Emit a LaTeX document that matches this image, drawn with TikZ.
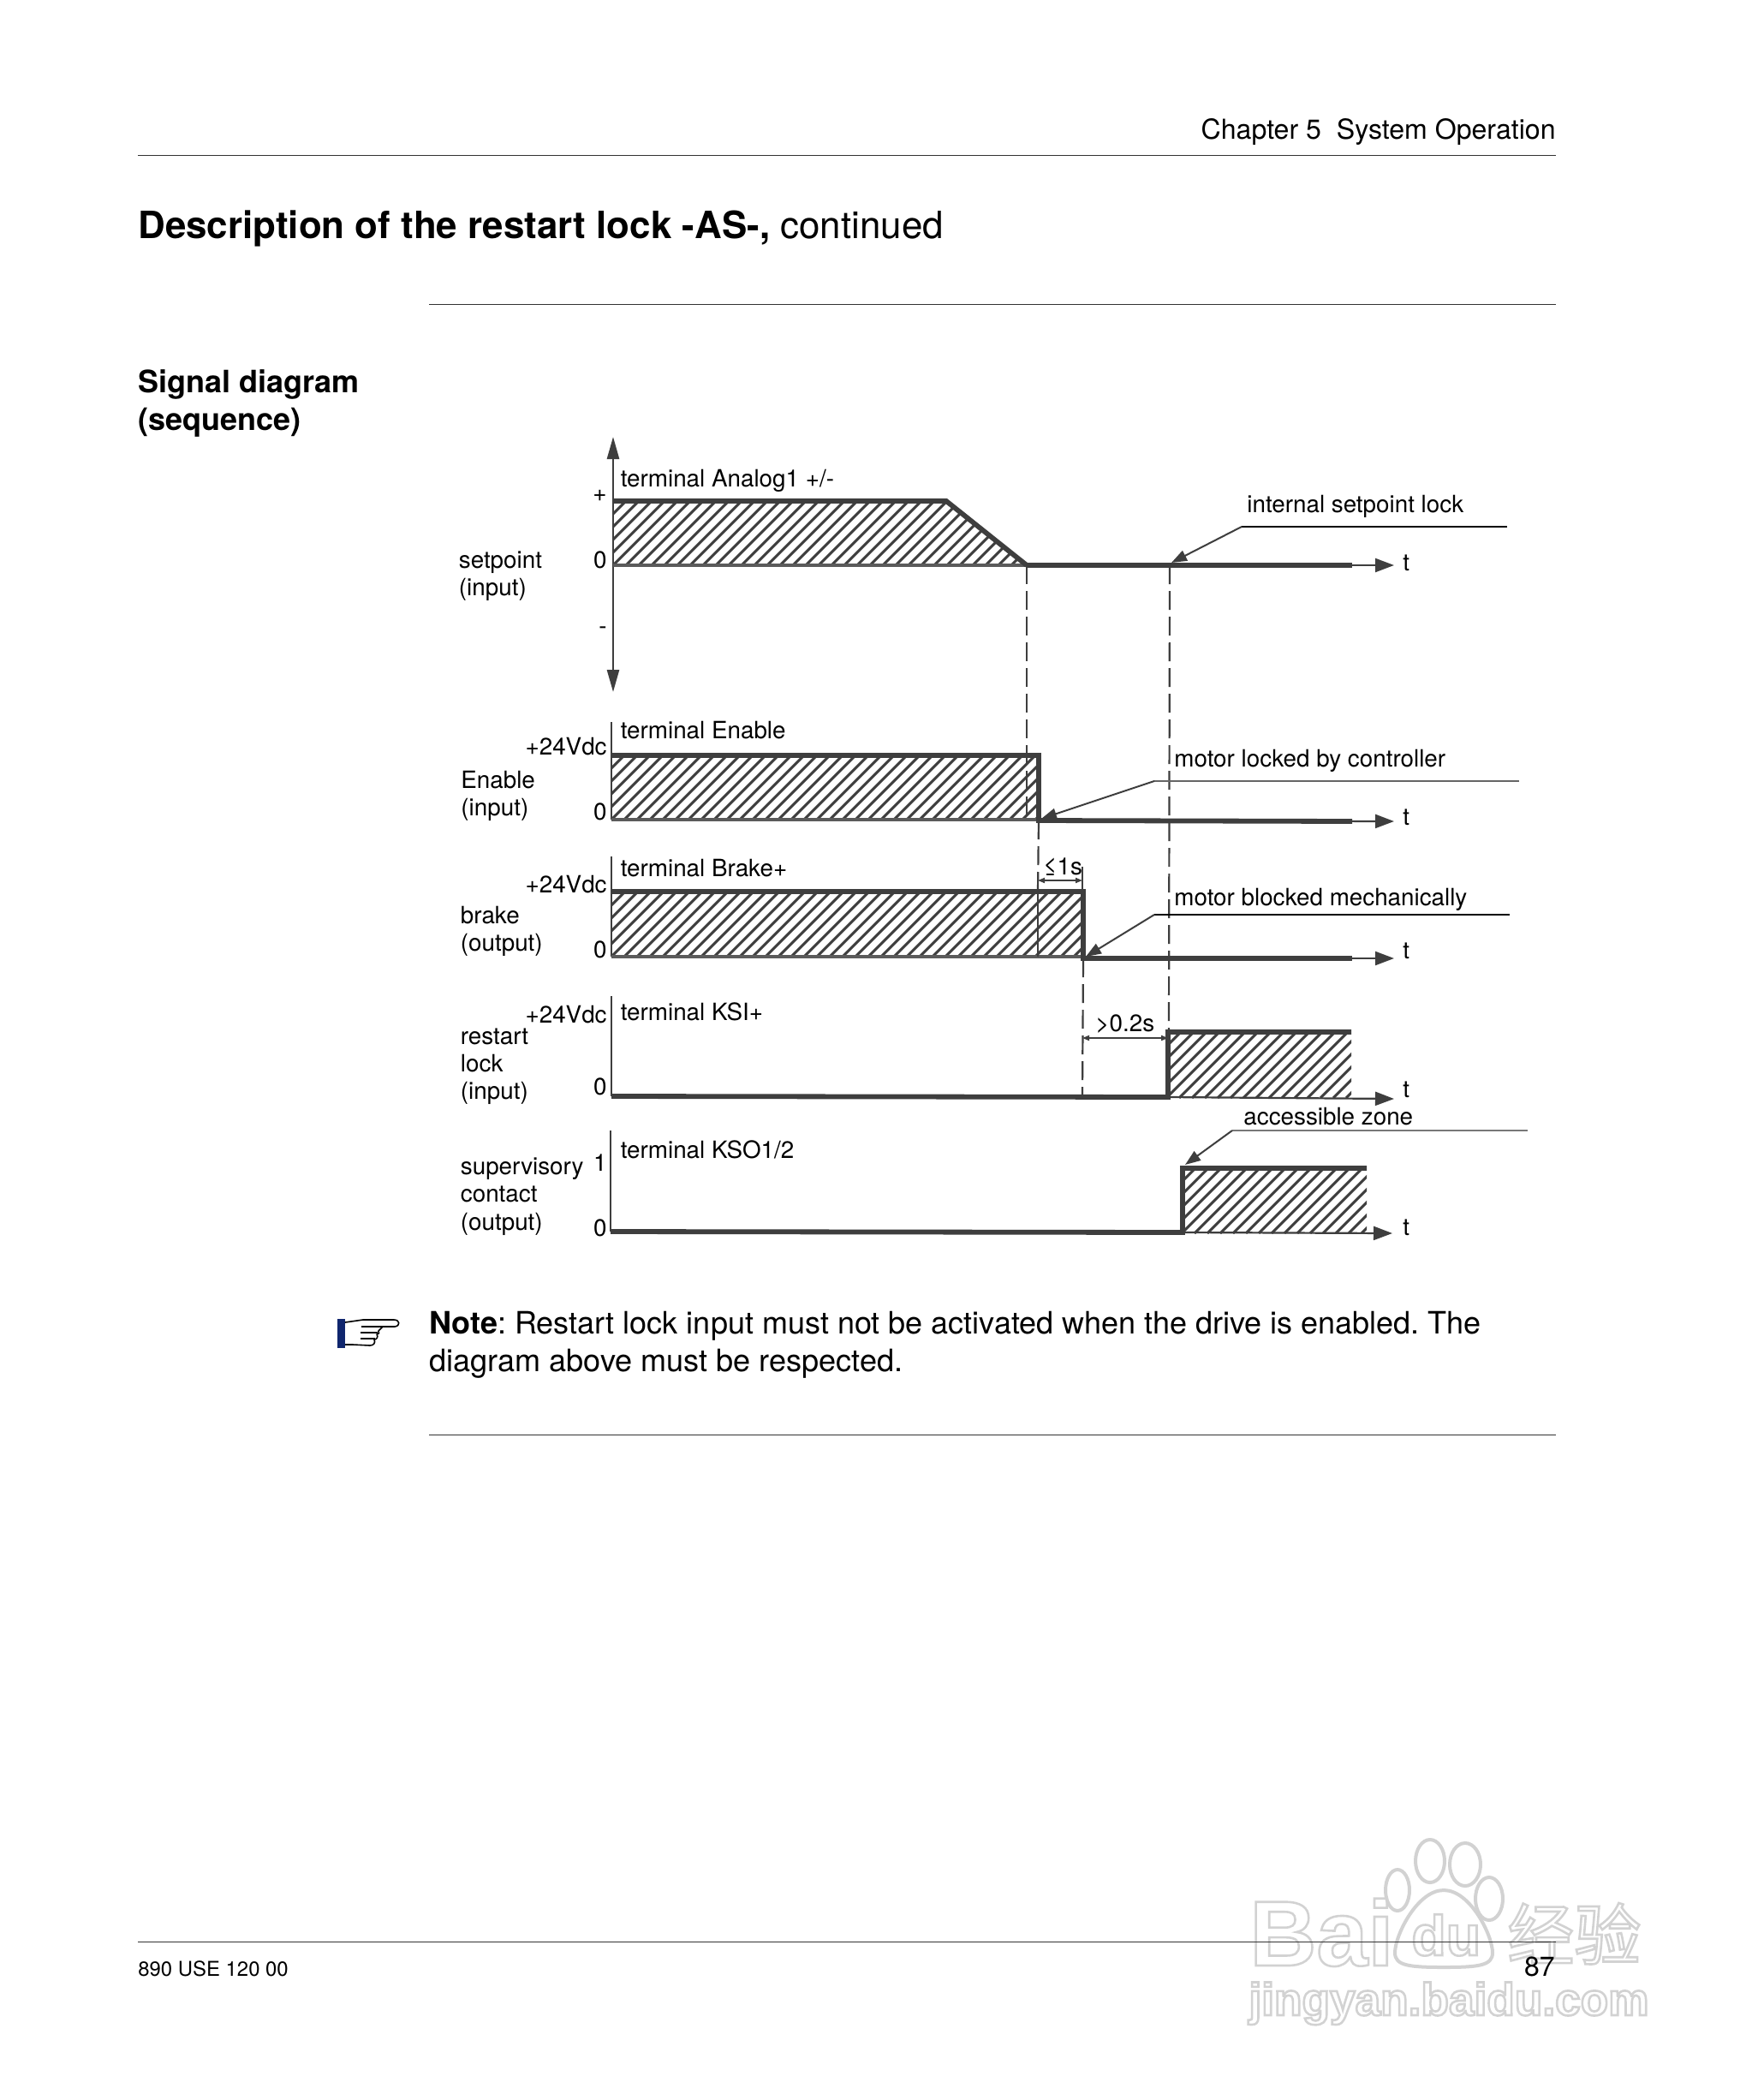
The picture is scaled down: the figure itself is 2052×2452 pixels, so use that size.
\documentclass[tikz,border=0pt]{standalone}
\usepackage{fontspec}
\setmainfont{TeX Gyre Heros}
\newfontfamily\cjkwm{Noto Sans CJK SC}
\newfontfamily\wmfont{Liberation Sans}
\usetikzlibrary{arrows.meta}
\definecolor{ink}{HTML}{3E3E3E}
\definecolor{wm}{HTML}{D2D2D2}
\definecolor{cuff}{HTML}{10266E}
\frenchspacing
\newcommand{\fs}[1]{\fontsize{#1}{#1}\selectfont}
\newcommand{\strokeon}{\special{pdf:code 1 Tr 1.3 w}}
\newcommand{\strokeoff}{\special{pdf:code 0 Tr}}
% hatched rectangle: left, top, right, bottom (pixels)
\newcommand{\hatchbox}[4]{%
  \begin{scope}
  \clip (#1,#2) rectangle (#3,#4);
  \pgfmathsetmacro{\hh}{#4-#2}
  \pgfmathsetmacro{\hstart}{#1-\hh}
  \pgfmathsetmacro{\hnext}{\hstart+15}
  \foreach \hx in {\hstart,\hnext,...,#3}{ \draw[hatchline] (\hx,#4) -- ++(\hh,-\hh); }
  \end{scope}}
\tikzset{
  lbl/.style={inner sep=0pt,anchor=base west,font=\fs{13.9},text=black},
  lblr/.style={inner sep=0pt,anchor=base east,font=\fs{13.9},text=black},
  pagetext/.style={inner sep=0pt,anchor=base west,text=black},
  rulerline/.style={line width=0.5pt,color=black!80},
  sigline/.style={line width=2.9pt,color=ink,line cap=butt,line join=miter},
  axisline/.style={line width=1.3pt,color=ink},
  zeroline/.style={line width=1.8pt,color=ink!85},
  dashline/.style={line width=1.1pt,color=ink,dash pattern=on 11pt off 4pt},
  solidcut/.style={line width=1pt,color=ink},
  hatchline/.style={line width=1.5pt,color=ink},
  tarrow/.style={line width=1.1pt,color=ink,-{Triangle[length=11pt,width=8pt]}},
  yarrows/.style={line width=1.3pt,color=ink,{Triangle[length=13pt,width=7pt]}-{Triangle[length=13pt,width=7pt]}},
  leader/.style={line width=1pt,color=ink,-{Triangle[length=9pt,width=6.5pt]}},
  leadbar/.style={line width=1.1pt,color=black},
  dimline/.style={line width=0.9pt,color=ink,{Triangle[length=4pt,width=3pt]}-{Triangle[length=4pt,width=3pt]}},
  wmtext/.style={inner sep=0pt,anchor=base west,text=wm},
}
\begin{document}
\begin{tikzpicture}[x=0.5pt,y=-0.5pt]
\useasboundingbox (0,0) rectangle (2052,2452);
\fill[white] (0,0) rectangle (2052,2452);

% ---- watermark ----
\node[wmtext,font=\wmfont\bfseries\fs{54}] (wmbai) at (1459,2295) {\strokeon Bai\strokeoff};
\begin{scope}[wm,line width=2pt]
\draw (1686,2207) .. controls (1655,2207) and (1629,2260) .. (1629,2280) .. controls (1629,2295) and (1645,2297) .. (1686,2297) .. controls (1727,2297) and (1743,2295) .. (1743,2280) .. controls (1743,2260) and (1717,2207) .. (1686,2207) -- cycle;
\draw (1632,2207) ellipse [x radius=14,y radius=24];
\draw (1670,2173) ellipse [x radius=17,y radius=25];
\draw (1711,2177) ellipse [x radius=18,y radius=25];
\draw (1739,2217) ellipse [x radius=16,y radius=25];
\end{scope}
\node[wmtext,font=\wmfont\bfseries\fs{33}] (wmdu) at (1648,2283) {\strokeon du\strokeoff};
\node[wmtext,font=\cjkwm\fs{39}] (wmjy) at (1760,2288) {\strokeon 经验\strokeoff};
\node[wmtext,font=\wmfont\bfseries\fs{26.6}] (wmurl) at (1458,2353) {\strokeon jingyan.baidu.com\strokeoff};

% ---- page furniture ----
\node[pagetext,anchor=base east,font=\fs{16.05}] (chapter) at (1817,162) {Chapter 5\hspace{0.556em}System Operation};
\coordinate (r1a) at (161,181.5); \coordinate (r1b) at (1817,181.5);
\draw[rulerline] (r1a) -- (r1b);
\node[pagetext,font=\fs{21.95}] (title) at (161,278) {\textbf{Description of the restart lock -AS-,} continued};
\coordinate (r2a) at (501,355); \coordinate (r2b) at (1817,355);
\draw[rulerline] (r2a) -- (r2b);
\node[pagetext,font=\bfseries\fs{18}] (sig1) at (161,458) {Signal diagram};
\node[pagetext,font=\bfseries\fs{18}] (sig2) at (161,502) {(sequence)};
\node[pagetext,font=\fs{18}] (note1) at (501,1557) {\textbf{Note}: Restart lock input must not be activated when the drive is enabled. The};
\node[pagetext,font=\fs{18.05}] (note2) at (501,1601.5) {diagram above must be respected.};
\coordinate (r3a) at (501,1675.5); \coordinate (r3b) at (1817,1675.5);
\draw[rulerline] (r3a) -- (r3b);
\coordinate (r4a) at (161,2267); \coordinate (r4b) at (1817,2267);
\draw[rulerline] (r4a) -- (r4b);
\node[pagetext,font=\fs{11.95}] (doc) at (161,2307) {890 USE 120 00};
\node[pagetext,anchor=base east,font=\fs{16}] (page) at (1816,2307) {87};

% ---- hand icon ----
\fill[cuff] (394,1540) rectangle (403,1574);
\draw[black,line width=0.8pt,line join=round] (403,1544) -- (424,1541) -- (460,1541) .. controls (467,1541) and (468,1548) .. (461,1549) -- (447,1549) -- (442,1554) .. controls (444,1556) and (442,1558) .. (440,1558) .. controls (442,1561) and (440,1564) .. (437,1564) .. controls (439,1568) and (436,1571) .. (432,1571) -- (412,1570) -- (403,1570);
\draw[black,line width=0.8pt] (422,1549) -- (447,1549) (421,1556) -- (441,1556) (421,1563) -- (438,1563);

% ---- named points of the signals ----
\coordinate (cutA) at (1199,660);
\coordinate (cutB) at (1366,660);
\coordinate (cutC) at (1213,958);
\coordinate (cutD) at (1265,1119);

% ---- setpoint ----
\begin{scope}
\clip (716,587) -- (1105,587) -- (1199,660) -- (716,660) -- cycle;
\pgfmathsetmacro{\hh}{75}
\foreach \hx in {641,656,...,1210}{ \draw[hatchline] (\hx,660) -- ++(\hh,-\hh); }
\end{scope}
\coordinate (aTop) at (716,510); \coordinate (aBot) at (716,808);
\draw[yarrows] (aBot) -- (aTop);
\coordinate (sZero) at (716,660);
\draw[zeroline] (sZero) -- (cutA);
\coordinate (sHi) at (716,585); \coordinate (sRamp) at (1105,585);
\draw[sigline] (sHi) -- (sRamp) -- (cutA);
\coordinate (sThick) at (1579,660); \coordinate (sTip) at (1628,660);
\draw[tarrow] (cutA) -- (sTip);
\draw[sigline] (cutA) -- (sThick);

% ---- Enable ----
\hatchbox{715}{881}{1212}{957}
\coordinate (eTop) at (714,843); \coordinate (eZero) at (714,957);
\draw[axisline] (eTop) -- (eZero);
\coordinate (eHi) at (714,882); \coordinate (eEdge) at (1213,882); \coordinate (eThick) at (1579,959); \coordinate (eTip) at (1628,959);
\coordinate (eLow) at (1213,957);
\draw[zeroline] (eZero) -- (eLow);
\draw[tarrow] (cutC) -- (eTip);
\draw[sigline] (eHi) -- (eEdge) -- (cutC) -- (eThick);

% ---- brake ----
\hatchbox{715}{1041}{1264}{1117}
\coordinate (bTop) at (714,1000); \coordinate (bZero) at (714,1117);
\draw[axisline] (bTop) -- (bZero);
\coordinate (bHi) at (714,1041); \coordinate (bEdge) at (1265,1041); \coordinate (bLow) at (1265,1117);
\draw[zeroline] (bZero) -- (bLow);
\coordinate (bThick) at (1579,1119); \coordinate (bTip) at (1628,1119);
\draw[tarrow] (cutD) -- (bTip);
\draw[sigline] (bHi) -- (bEdge) -- (cutD) -- (bThick);

% ---- restart lock ----
\hatchbox{1364}{1205}{1578}{1282}
\coordinate (kTop) at (714,1163); \coordinate (kZero) at (714,1280);
\draw[axisline] (kTop) -- (kZero);
\coordinate (kEdge) at (1364,1281); \coordinate (kHiL) at (1364,1205); \coordinate (kHiR) at (1578,1205); \coordinate (kTip) at (1628,1283);
\draw[tarrow] (kEdge) -- (kTip);
\draw[sigline] (kZero) -- (kEdge) -- (kHiL) -- (kHiR);

% ---- supervisory contact ----
\hatchbox{1381}{1364}{1596}{1440}
\coordinate (cTop) at (713,1320); \coordinate (cZero) at (713,1438);
\draw[axisline] (cTop) -- (cZero);
\coordinate (cEdge) at (1381,1439); \coordinate (cHiL) at (1381,1364); \coordinate (cHiR) at (1596,1364); \coordinate (cTip) at (1626,1440);
\draw[tarrow] (cEdge) -- (cTip);
\draw[sigline] (cZero) -- (cEdge) -- (cHiL) -- (cHiR);

% ---- dashed time markers ----
\coordinate (cutAe) at (1199,957);
\draw[dashline] (cutA) -- (cutAe);
\coordinate (cutBe) at (1365,1205);
\draw[dashline] (cutB) -- (cutBe);
\coordinate (cutCe) at (1212,1040);
\draw[dashline] (cutC) -- (cutCe);
\coordinate (cutCf) at (1212,1117);
\draw[solidcut] (cutCe) -- (cutCf);
\coordinate (cutDe) at (1264,1280);
\draw[dashline] (cutD) -- (cutDe);

% ---- dimensions ----
\coordinate (d1a) at (1212,1028); \coordinate (d1b) at (1264,1028);
\draw[dimline] (d1a) -- (d1b);
\coordinate (d1t) at (1264,1012); \coordinate (d1u) at (1264,1041);
\draw[solidcut] (d1t) -- (d1u);
\node[lbl] (le1s) at (1218,1021) {≤1s};
\coordinate (d2a) at (1264,1212); \coordinate (d2b) at (1364,1212);
\draw[dimline] (d2a) -- (d2b);
\node[lbl] (gt02s) at (1279,1204) {>0.2s};

% ---- leaders ----
\coordinate (l1a) at (1760,615); \coordinate (l1b) at (1450,615); \coordinate (l1c) at (1368,657);
\draw[leadbar] (l1a) -- (l1b);
\draw[leader] (l1b) -- (l1c);
\node[lbl] (tlock) at (1456,598.5) {internal setpoint lock};
\coordinate (l2a) at (1774,912); \coordinate (l2b) at (1348,912); \coordinate (l2c) at (1216,956);
\draw[leadbar,color=ink!80] (l2a) -- (l2b);
\draw[leader] (l2b) -- (l2c);
\node[lbl] (tctrl) at (1371,895) {motor locked by controller};
\coordinate (l3a) at (1763,1068); \coordinate (l3b) at (1348,1068); \coordinate (l3c) at (1268,1117);
\draw[leadbar] (l3a) -- (l3b);
\draw[leader] (l3b) -- (l3c);
\node[lbl] (tmech) at (1371,1057) {motor blocked mechanically};
\coordinate (l4a) at (1784,1320); \coordinate (l4b) at (1439,1320); \coordinate (l4c) at (1384,1360);
\draw[leadbar,color=ink!70] (l4a) -- (l4b);
\draw[leader] (l4b) -- (l4c);
\node[lbl] (tzone) at (1452,1313) {accessible zone};

% ---- labels ----
\node[lbl] (tA) at (724.5,568.5) {terminal Analog1 +/-};
\node[lbl] (tE) at (724.5,862.5) {terminal Enable};
\node[lbl] (tB) at (724.5,1023) {terminal Brake+};
\node[lbl] (tK) at (724.5,1191) {terminal KSI+};
\node[lbl] (tS) at (724.5,1352) {terminal KSO1/2};

\node[lbl] (setp1) at (535.5,663) {setpoint};
\node[lbl] (setp2) at (535.5,695) {(input)};
\node[lblr] (plus) at (709,585) {+};
\node[lblr] (z1) at (709,663) {0};
\node[lblr] (minus) at (709,740) {-};

\node[lbl] (en1) at (538,920) {Enable};
\node[lbl] (en2) at (538,952) {(input)};
\node[lblr] (v1) at (709,881) {+24Vdc};
\node[lblr] (z2) at (709,957) {0};

\node[lbl] (br1) at (537.5,1078) {brake};
\node[lbl] (br2) at (537.5,1110) {(output)};
\node[lblr] (v2) at (709,1042) {+24Vdc};
\node[lblr] (z3) at (709,1118) {0};

\node[lbl] (re1) at (537.5,1219) {restart};
\node[lbl] (re2) at (537.5,1251) {lock};
\node[lbl] (re3) at (537.5,1283) {(input)};
\node[lblr] (v3) at (709,1194) {+24Vdc};
\node[lblr] (z4) at (709,1278) {0};

\node[lbl] (su1) at (537.5,1371) {supervisory};
\node[lbl] (su2) at (537.5,1403) {contact};
\node[lbl] (su3) at (537.5,1436) {(output)};
\node[lblr] (one) at (709,1367) {1};
\node[lblr] (z5) at (709,1443) {0};

\node[lbl] (t1) at (1638,666) {t};
\node[lbl] (t2) at (1638,963) {t};
\node[lbl] (t3) at (1638,1119) {t};
\node[lbl] (t4) at (1638,1281) {t};
\node[lbl] (t5) at (1638,1442) {t};
\end{tikzpicture}
\end{document}
